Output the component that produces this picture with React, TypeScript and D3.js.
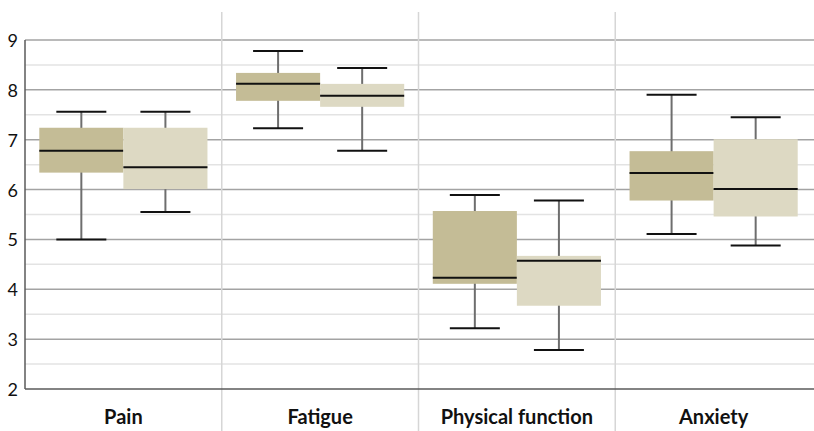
import React from "react";
import * as d3 from "d3";

const categories = ["Pain", "Fatigue", "Physical function", "Anxiety"];
const groups = ["A", "B"];
// Per category: [group A, group B]
const whiskerLow = [[5.0, 5.55], [7.23, 6.78], [3.22, 2.78], [5.11, 4.88]];
const q1 = [[6.34, 6.01], [7.78, 7.66], [4.11, 3.67], [5.78, 5.46]];
const medians = [[6.78, 6.45], [8.12, 7.88], [4.23, 4.57], [6.33, 6.01]];
const q3 = [[7.24, 7.24], [8.34, 8.12], [5.57, 4.67], [6.77, 7.01]];
const whiskerHigh = [[7.56, 7.56], [8.78, 8.44], [5.89, 5.78], [7.9, 7.45]];
const yTicks = [2, 3, 4, 5, 6, 7, 8, 9];
const yMinorTicks = [2.5, 3.5, 4.5, 5.5, 6.5, 7.5, 8.5];

const W = 814;
const H = 431;
const fillColors = ["#c4bc96", "#ddd9c3"];

export default function App() {
  const left = 25;
  const right = 812;
  const y = d3.scaleLinear().domain([2, 9]).range([389, 40]);
  const x = d3.scaleBand<string>().domain(categories).range([left, right]);
  const inner = d3
    .scaleBand<string>()
    .domain(groups)
    .range([0, x.bandwidth()])
    .paddingOuter(0.17)
    .paddingInner(0);
  const bw = inner.bandwidth();
  const capW = 50;

  return (
    <svg
      width={W}
      height={H}
      style={{ position: "absolute", left: 0, top: 0, background: "#fff" }}
      fontFamily="Lato, 'Open Sans', sans-serif"
    >
      {/* minor grid */}
      {yMinorTicks.map((t) => (
        <line key={"m" + t} x1={left} x2={W} y1={y(t)} y2={y(t)} stroke="#e3e3e3" strokeWidth={1.5} />
      ))}
      {/* major grid */}
      {yTicks.slice(1).map((t) => (
        <line key={"g" + t} x1={left} x2={W} y1={y(t)} y2={y(t)} stroke="#a3a3a3" strokeWidth={1.5} />
      ))}
      {/* category separators */}
      {categories.slice(1).map((c) => (
        <line key={"s" + c} x1={x(c)!} x2={x(c)!} y1={12} y2={H} stroke="#d6d6d6" strokeWidth={1.5} />
      ))}
      {/* axes */}
      <line x1={left} x2={left} y1={y(9)} y2={y(2)} stroke="#5a5a5a" strokeWidth={1.5} />
      <line x1={left} x2={W} y1={y(2)} y2={y(2)} stroke="#5a5a5a" strokeWidth={1.5} />
      {yTicks.map((t) => (
        <text key={"t" + t} x={18} y={y(t)} textAnchor="end" dominantBaseline="central" fontSize={18} fill="#111">
          {t}
        </text>
      ))}
      {categories.map((c) => (
        <text
          key={"c" + c}
          x={x(c)! + x.bandwidth() / 2}
          y={424}
          textAnchor="middle"
          fontSize={20}
          fontWeight="bold"
          fill="#111"
        >
          {c}
        </text>
      ))}
      {/* boxes */}
      {categories.map((c, i) =>
        groups.map((g, j) => {
          const x0 = x(c)! + inner(g)!;
          const cx = x0 + bw / 2;
          return (
            <g key={c + g}>
              <line x1={cx} x2={cx} y1={y(whiskerHigh[i][j])} y2={y(whiskerLow[i][j])} stroke="#6e6e6e" strokeWidth={2} />
              <rect
                x={x0}
                y={y(q3[i][j])}
                width={bw}
                height={y(q1[i][j]) - y(q3[i][j])}
                fill={fillColors[j]}
              />
              <line x1={x0} x2={x0 + bw} y1={y(medians[i][j])} y2={y(medians[i][j])} stroke="#111" strokeWidth={2} />
              <line
                x1={cx - capW / 2}
                x2={cx + capW / 2}
                y1={y(whiskerHigh[i][j])}
                y2={y(whiskerHigh[i][j])}
                stroke="#111"
                strokeWidth={2}
              />
              <line
                x1={cx - capW / 2}
                x2={cx + capW / 2}
                y1={y(whiskerLow[i][j])}
                y2={y(whiskerLow[i][j])}
                stroke="#111"
                strokeWidth={2}
              />
            </g>
          );
        })
      )}
    </svg>
  );
}
